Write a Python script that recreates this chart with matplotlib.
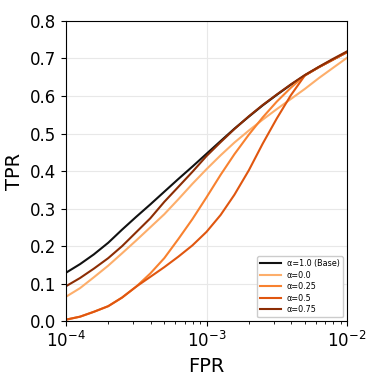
import matplotlib
matplotlib.use("Agg")
import matplotlib.pyplot as plt

# false positive rates (shared grid, log spaced 1e-4 .. 1e-2)
fpr = [1.0e-4, 1.26e-4, 1.58e-4, 2.0e-4, 2.51e-4, 3.16e-4, 3.98e-4, 5.01e-4,
       6.31e-4, 7.94e-4, 1.0e-3, 1.26e-3, 1.58e-3, 2.0e-3, 2.51e-3, 3.16e-3,
       3.98e-3, 5.01e-3, 6.31e-3, 7.94e-3, 1.0e-2]

tpr_base = [0.129, 0.152, 0.178, 0.209, 0.244, 0.278, 0.311, 0.345, 0.379, 0.412,
            0.446, 0.480, 0.513, 0.545, 0.575, 0.603, 0.630, 0.655, 0.677, 0.697, 0.717]
tpr_a00 = [0.065, 0.088, 0.117, 0.148, 0.181, 0.215, 0.250, 0.285, 0.325, 0.366,
           0.405, 0.442, 0.476, 0.508, 0.537, 0.565, 0.592, 0.619, 0.648, 0.675, 0.702]
tpr_a25 = [0.004, 0.012, 0.025, 0.040, 0.063, 0.092, 0.127, 0.168, 0.219, 0.272,
           0.330, 0.390, 0.445, 0.497, 0.543, 0.585, 0.622, 0.655, 0.677, 0.697, 0.717]
tpr_a50 = [0.004, 0.012, 0.025, 0.040, 0.063, 0.092, 0.118, 0.144, 0.172, 0.202,
           0.238, 0.283, 0.337, 0.402, 0.473, 0.540, 0.602, 0.655, 0.677, 0.697, 0.717]
tpr_a75 = [0.093, 0.115, 0.140, 0.168, 0.200, 0.237, 0.274, 0.318, 0.358, 0.398,
           0.440, 0.477, 0.512, 0.546, 0.576, 0.604, 0.631, 0.656, 0.678, 0.699, 0.719]

labels = ["α=1.0 (Base)", "α=0.0", "α=0.25", "α=0.5", "α=0.75"]
colors = ["#111111", "#fdae6b", "#f8812f", "#e0560f", "#8c2d04"]
series = [tpr_base, tpr_a00, tpr_a25, tpr_a50, tpr_a75]

fig = plt.figure(figsize=(3.81, 3.81), dpi=100)
ax = fig.add_axes([0.173, 0.157, 0.738, 0.788])

for tpr, lab, col in zip(series, labels, colors):
    ax.plot(fpr, tpr, color=col, lw=1.5, label=lab)

ax.set_xscale("log")
ax.set_xlim(1e-4, 1e-2)
ax.set_ylim(0, 0.8)
ax.grid(True, color="#e8e8e8", lw=0.8)
ax.tick_params(labelsize=12)
ax.set_xlabel("FPR", fontsize=14)
ax.set_ylabel("TPR", fontsize=14)
ax.legend(loc="lower right", fontsize=5.8, framealpha=1, edgecolor="#cccccc",
          handlelength=2.5, labelspacing=0.3)

fig.savefig("out.png", dpi=100)
